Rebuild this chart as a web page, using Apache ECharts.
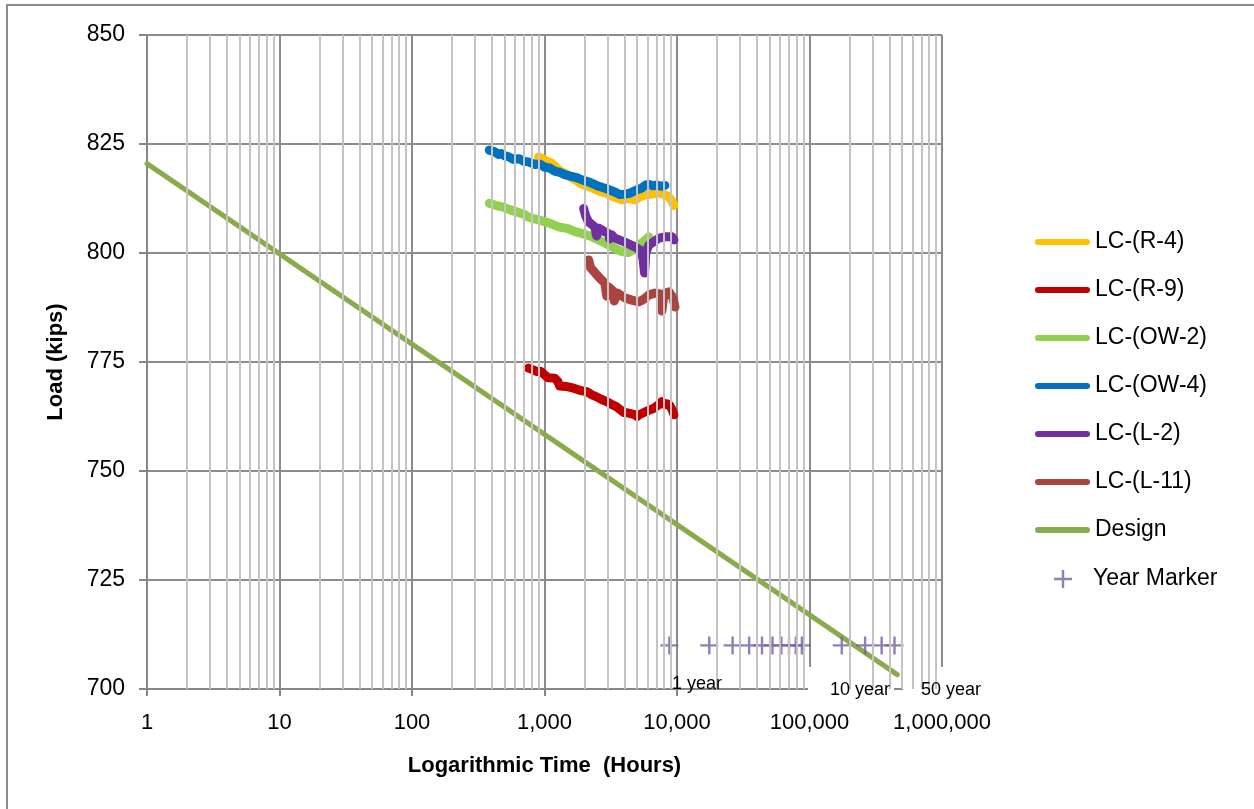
<!DOCTYPE html>
<html><head><meta charset="utf-8">
<script src="https://cdn.jsdelivr.net/npm/echarts@6/dist/echarts.min.js"></script>
<style>html,body{margin:0;padding:0;background:#fff}#c{width:1254px;height:809px}</style>
</head><body><div id="c"></div>
<script>
const seriesNames = ['LC-(R-4)','LC-(R-9)','LC-(OW-2)','LC-(OW-4)','LC-(L-2)','LC-(L-11)','Design','Year Marker'];
const seriesColors = ['#FFC000','#C00000','#92D050','#0070C0','#7030A0','#A9443F','#8AAB4B','#7360A0'];
const r4 = [[901,822.0],[960,821.7],[1010,821.2],[1130,820.6],[1250,819.4],[1345,818.6],[1450,818.2],[1603,817.2],[1750,816.6],[1906,815.8],[2200,815.2],[2565,814.2],[2900,813.8],[3220,813.1],[3500,812.6],[3830,812.2],[4300,812.5],[4810,812.2],[5250,812.9],[5725,813.3],[6400,813.5],[7310,813.8],[8000,813.4],[8700,812.8],[9200,811.8],[9490,810.9]];
const r9 = [[757,773.6],[820,773.2],[870,772.8],[930,772.9],[982,772.3],[1060,771.4],[1191,771.3],[1260,770.6],[1299,769.5],[1450,769.4],[1660,769.0],[1850,768.5],[2080,768.2],[2300,767.4],[2477,767.0],[2700,766.4],[2950,765.9],[3200,765.3],[3510,764.7],[3750,764.0],[3965,763.4],[4300,763.3],[4720,763.0],[5000,762.5],[5200,762.9],[5620,763.4],[6100,763.9],[6700,764.4],[7200,765.1],[7690,765.9],[8100,765.2],[8400,765.4],[8850,765.0],[9200,764.0],[9490,762.9]];
const ow2 = [[383,811.4],[420,811.0],[480,810.6],[540,810.0],[593,809.6],[700,808.9],[760,808.2],[840,807.8],[950,807.4],[1100,806.8],[1277,806.0],[1500,805.6],[1700,804.9],[1906,804.5],[2200,803.9],[2565,803.0],[2900,802.2],[3390,801.1],[3700,800.5],[4035,800.2],[4300,800.1],[4560,800.5],[5155,801.8],[5700,802.8],[6140,803.7]];
const ow4 = [[383,823.6],[420,823.2],[450,822.6],[472,822.8],[500,822.3],[534,822.1],[580,821.5],[647,821.6],[700,821.0],[757,820.9],[850,820.3],[920,820.4],[1000,819.7],[1090,819.5],[1191,818.8],[1300,818.5],[1418,818.0],[1600,817.6],[1750,817.3],[1906,816.8],[2200,816.2],[2565,815.3],[2900,814.8],[3390,814.0],[3700,813.4],[4035,813.5],[4400,813.7],[4810,814.3],[5430,814.9],[5800,815.6],[6140,815.7],[6600,815.4],[7050,815.6],[7600,815.3],[8110,815.5]];
const l2 = [[1974,810.2],[2046,808.5],[2155,807.1],[2392,806.0],[2477,803.9],[2565,805.7],[2800,805.0],[3053,804.4],[3100,803.2],[3200,804.2],[3390,803.4],[4035,802.5],[4810,801.4],[5250,800.7],[5530,798.9],[5690,795.4],[5820,800.2],[6140,801.8],[6700,802.6],[7310,803.4],[8110,803.7],[9160,803.7],[9490,803.0]];
const l11 = [[2155,798.4],[2230,796.6],[2565,794.5],[2850,793.1],[2950,790.1],[3053,792.2],[3335,791.1],[3360,789.0],[3575,790.8],[4035,789.7],[4560,789.2],[5155,788.8],[5620,789.4],[6140,790.4],[6810,790.8],[7430,790.6],[7690,786.7],[7980,790.6],[8700,791.1],[9330,789.7],[9660,787.6]];
const design = [[1,820.5],[460000,703.3]];
const yearMarkers = [[8760,710],[17520,710],[26280,710],[35040,710],[43800,710],[52560,710],[61320,710],[70080,710],[78840,710],[87600,710],[175200,710],[262800,710],[350400,710],[438000,710]];
const yearLabels = ['1 year','10 year','50 year'];
const decades = [1,10,100,1000,10000,100000,1000000];
const minorGrid = [];
for (let i = 0; i < decades.length - 1; i++) for (let k = 2; k <= 9; k++) minorGrid.push(decades[i] * k);

const plusPath = 'path://M0,7.8H18V10.2H0Z M7.8,0H10.2V18H7.8Z';
const capsulePath = 'path://M3,0H52A3,3 0 0 1 52,6H3A3,3 0 0 1 3,0Z';
const FONT = 'Liberation Sans';
const chart = echarts.init(document.getElementById('c'), null, {renderer: 'canvas'});
const dataSets = [r4, r9, ow2, ow4, l2, l11];
const series = [];
series.push({
  name: '_grid', type: 'line', data: [], z: 0.5, silent: true,
  markLine: { silent: true, symbol: 'none', animation: false, label: {show: false},
    lineStyle: {color: '#c4c4c4', width: 2, type: 'solid'},
    data: minorGrid.map(v => ({xAxis: v})) }
});
dataSets.forEach((d, i) => {
  series.push({ name: seriesNames[i], type: 'line', data: d, showSymbol: false, symbol: 'none',
    color: seriesColors[i], z: 2 + i * 0.01,
    lineStyle: {width: 9, color: seriesColors[i], cap: 'round', join: 'round'} });
});
series.push({ name: seriesNames[6], type: 'line', data: design, showSymbol: false, symbol: 'none',
  color: seriesColors[6], z: 2.1, lineStyle: {width: 5, color: seriesColors[6], cap: 'round'} });
series.push({ name: seriesNames[7], type: 'scatter', data: yearMarkers, symbol: plusPath, symbolSize: 18,
  symbolKeepAspect: true, color: seriesColors[7], itemStyle: {color: seriesColors[7]}, z: 2.2 });

const legendText = {fontFamily: FONT, fontSize: 23, color: '#000', lineHeight: 24};
chart.setOption({
  animation: false,
  backgroundColor: '#fff',
  grid: {left: 147, top: 35, width: 795, height: 654, containLabel: false},
  xAxis: {
    type: 'log', logBase: 10, min: 1, max: 1000000,
    name: 'Logarithmic Time  (Hours)', nameLocation: 'middle', nameGap: 66,
    nameTextStyle: {fontFamily: FONT, fontSize: 22, fontWeight: 'bold', color: '#000'},
    axisLine: {show: true, lineStyle: {color: '#868686', width: 2}},
    axisTick: {show: true, length: 7, lineStyle: {color: '#868686', width: 2}},
    axisLabel: {fontFamily: FONT, fontSize: 22, color: '#000', margin: 23,
      formatter: v => Math.round(v).toLocaleString('en-US')},
    splitLine: {show: true, lineStyle: {color: '#8c8c8c', width: 2}},
    minorTick: {show: false}, minorSplitLine: {show: false}
  },
  yAxis: {
    type: 'value', min: 700, max: 850, interval: 25,
    name: 'Load (kips)', nameLocation: 'middle', nameGap: 80, nameRotate: 90,
    nameTextStyle: {fontFamily: FONT, fontSize: 22, fontWeight: 'bold', color: '#000'},
    axisLine: {show: true, lineStyle: {color: '#868686', width: 2}},
    axisTick: {show: true, length: 8, lineStyle: {color: '#868686', width: 2}},
    axisLabel: {fontFamily: FONT, fontSize: 23, color: '#000', margin: 22},
    splitLine: {show: true, lineStyle: {color: '#8c8c8c', width: 2}}
  },
  legend: [{
    orient: 'vertical', left: 1035, top: 230, padding: 0, itemWidth: 55, itemHeight: 6, itemGap: 24,
    data: seriesNames.slice(0, 7).map(n => ({name: n, icon: capsulePath})),
    textStyle: legendText
  }, {
    orient: 'vertical', left: 1054, top: 567, padding: 0, itemWidth: 50, itemHeight: 18,
    data: [{name: seriesNames[7], icon: plusPath}],
    textStyle: legendText
  }],
  graphic: [
    {type: 'rect', z: 1, silent: true, shape: {x: 808, y: 667, width: 86, height: 38}, style: {fill: '#fff'}},
    {type: 'rect', z: 1, silent: true, shape: {x: 903, y: 667, width: 100, height: 38}, style: {fill: '#fff'}},
    {type: 'rect', z: 100, silent: true, shape: {x: 7, y: 5, width: 1400, height: 1000}, style: {fill: 'none', stroke: '#8c8c8c', lineWidth: 2}},
    {type: 'text', z: 100, left: 672, top: 675, style: {text: yearLabels[0], font: '18px "Liberation Sans"', fill: '#000'}},
    {type: 'text', z: 100, left: 830, top: 681, style: {text: yearLabels[1], font: '18px "Liberation Sans"', fill: '#000'}},
    {type: 'text', z: 100, left: 921, top: 681, style: {text: yearLabels[2], font: '18px "Liberation Sans"', fill: '#000'}}
  ],
  series: series
});
</script></body></html>
